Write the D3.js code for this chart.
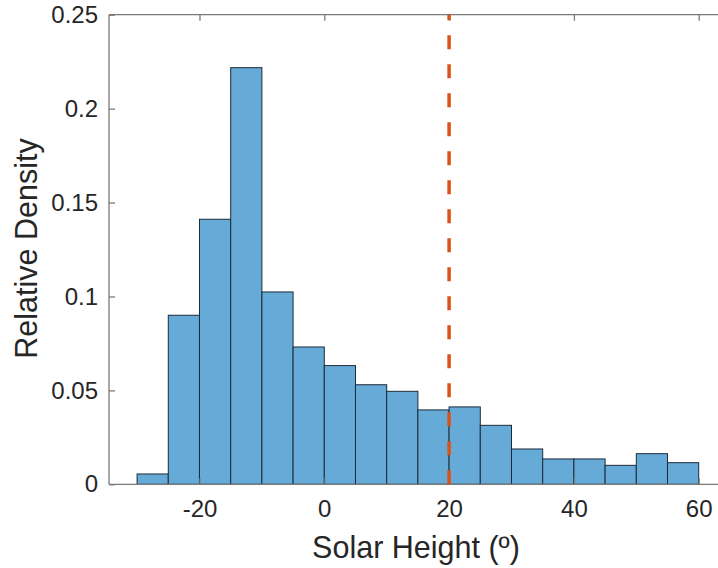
<!DOCTYPE html>
<html><head><meta charset="utf-8">
<script src="https://cdn.jsdelivr.net/npm/d3@7"></script>
<style>body{margin:0;background:#fff}svg{display:block}</style>
</head><body><svg id="c" width="718" height="568"></svg>
<script>
const binEdges = [-30,-25,-20,-15,-10,-5,0,5,10,15,20,25,30,35,40,45,50,55,60];
const densities = [0.0055,0.090,0.1411,0.2218,0.1024,0.0731,0.0632,0.053,0.0495,0.0396,0.0412,0.0314,0.0188,0.0135,0.0135,0.0101,0.0163,0.0115];
const xTicks = [-20,0,20,40,60];
const xTickLabels = ["-20","0","20","40","60"];
const yTicks = [0,0.05,0.1,0.15,0.2,0.25];
const yTickLabels = ["0","0.05","0.1","0.15","0.2","0.25"];
const markerX = [20];

const svg = d3.select("#c");
const L=109, R=729.9, T=14.7, B=484.3;
const x = d3.scaleLinear().domain([-34.5,65]).range([L,R]);
const y = d3.scaleLinear().domain([0,0.25]).range([B,T]);
const font = "'Liberation Sans', Arial, Helvetica, sans-serif";
const axCol = "#7a7a7a", txtCol = "#262626";

// bars
svg.append("g").selectAll("rect").data(densities).join("rect")
  .attr("x",(d,i)=>x(binEdges[i]))
  .attr("width",(d,i)=>x(binEdges[i+1])-x(binEdges[i]))
  .attr("y",d=>y(d)).attr("height",d=>y(0)-y(d))
  .attr("fill","#66aad7").attr("stroke","#1d2b38").attr("stroke-width",1);

// axes box
const gx = svg.append("g").attr("transform",`translate(0,${B})`)
  .call(d3.axisBottom(x).tickValues(xTicks).tickSize(-6).tickPadding(16).tickFormat((d,i)=>xTickLabels[i]));
const gxt = svg.append("g").attr("transform",`translate(0,${T})`)
  .call(d3.axisTop(x).tickValues(xTicks).tickSize(-6).tickFormat(""));
const gy = svg.append("g").attr("transform",`translate(${L},0)`)
  .call(d3.axisLeft(y).tickValues(yTicks).tickSize(-6).tickPadding(11).tickFormat((d,i)=>yTickLabels[i]));
[gx,gxt,gy].forEach(g=>{
  g.select(".domain").attr("stroke",axCol).attr("stroke-width",1.3);
  g.selectAll(".tick line").attr("stroke",axCol).attr("stroke-width",1.3);
  g.selectAll(".tick text").attr("fill",txtCol).style("font-family",font).style("font-size","24px");
});
gx.select(".domain").attr("d",`M${L},0H${R}`);
gxt.select(".domain").attr("d",`M${L},0H${R}`);
gy.select(".domain").attr("d",`M0,${B}V${T}`);

// dashed marker
svg.selectAll("line.mk").data(markerX).join("line").attr("class","mk")
  .attr("x1",d=>x(d)).attr("x2",d=>x(d)).attr("y1",y(0)).attr("y2",y(0.25))
  .attr("stroke","#d95319").attr("stroke-width",3.5).attr("stroke-dasharray","14,15");

// labels
svg.append("text").attr("x",416).attr("y",558).attr("text-anchor","middle")
  .attr("fill",txtCol).style("font-family",font).style("font-size","30.5px").text("Solar Height (º)");
svg.append("text").attr("transform",`translate(37,248.5) rotate(-90)`).attr("text-anchor","middle")
  .attr("fill",txtCol).style("font-family",font).style("font-size","30.5px").text("Relative Density");
</script></body></html>
